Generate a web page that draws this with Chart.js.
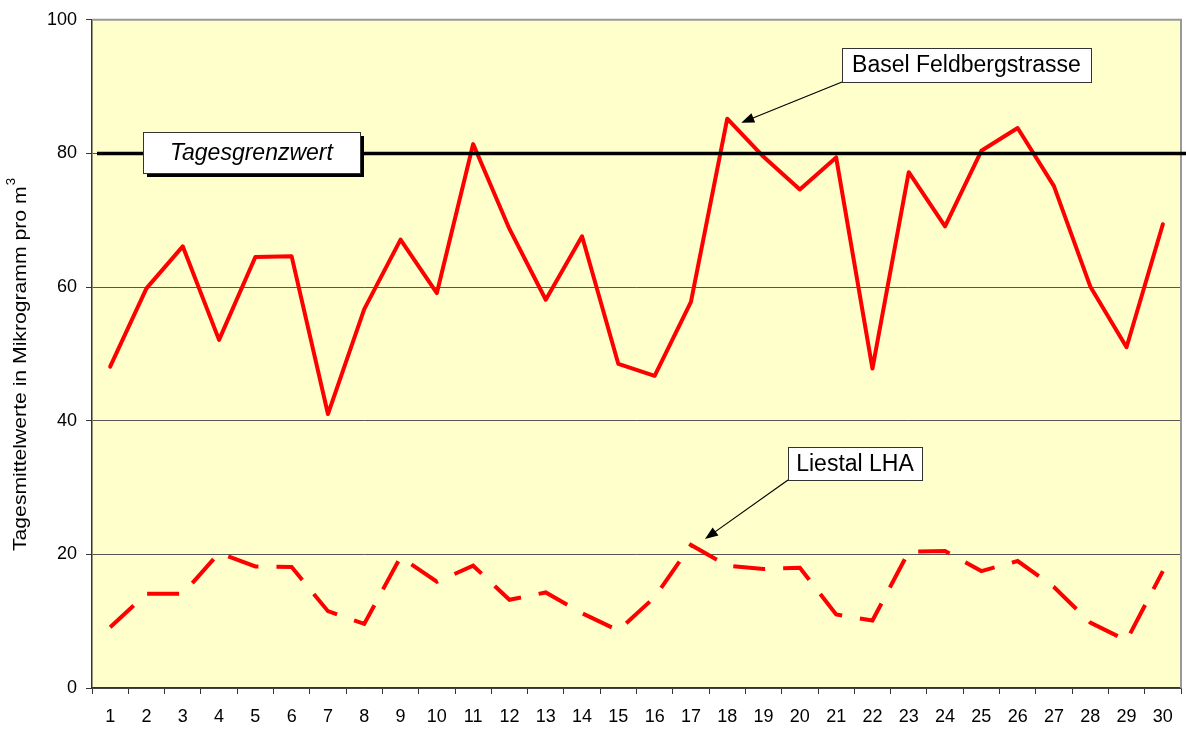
<!DOCTYPE html>
<html>
<head>
<meta charset="utf-8">
<script src="https://cdn.jsdelivr.net/npm/chart.js@4.4.0/dist/chart.umd.min.js"></script>
<style>
  html, body { margin: 0; padding: 0; background: #fff; }
  #wrap { width: 1186px; height: 729px; }
</style>
</head>
<body>
<div id="wrap"><canvas id="mainChart"></canvas></div>
<script>
const days = ["1","2","3","4","5","6","7","8","9","10","11","12","13","14","15",
              "16","17","18","19","20","21","22","23","24","25","26","27","28","29","30"];
const basel = [48.1, 59.8, 66.1, 52.1, 64.5, 64.6, 41.0, 56.7, 67.1, 59.1,
               81.4, 68.7, 58.1, 67.6, 48.5, 46.7, 57.8, 85.2, 79.5, 74.6,
               79.4, 47.8, 77.2, 69.1, 80.4, 83.8, 75.1, 60.1, 51.0, 69.4];
const liestal = [9.1, 14.1, 14.1, 20.2, 18.2, 18.1, 11.5, 9.6, 19.6, 15.9,
                 18.3, 13.2, 14.3, 11.2, 8.6, 13.6, 21.4, 18.3, 17.8, 18.0,
                 11.0, 10.1, 20.4, 20.5, 17.5, 19.0, 15.1, 9.8, 7.1, 17.5];
const yTicks = [0, 20, 40, 60, 80, 100];
const grenzwert = 80;

const FONT = "'Liberation Sans', Arial, sans-serif";

function labelBox(ctx, x, y, w, h, text, font, shadow) {
  if (shadow) {
    ctx.fillStyle = "#000";
    ctx.fillRect(x + 4, y + 4, w, h);
  }
  ctx.fillStyle = "#fff";
  ctx.fillRect(x, y, w, h);
  ctx.strokeStyle = "#333";
  ctx.lineWidth = 1;
  ctx.strokeRect(x + 0.5, y + 0.5, w, h);
  ctx.fillStyle = "#000";
  ctx.font = font;
  ctx.textAlign = "center";
  ctx.textBaseline = "middle";
  ctx.fillText(text, x + w / 2, y + h / 2 + 1);
}

function arrow(ctx, x1, y1, x2, y2) {
  ctx.strokeStyle = "#000";
  ctx.fillStyle = "#000";
  ctx.lineWidth = 1.2;
  const a = Math.atan2(y2 - y1, x2 - x1);
  ctx.beginPath();
  ctx.moveTo(x1, y1);
  ctx.lineTo(x2 - 8 * Math.cos(a), y2 - 8 * Math.sin(a));
  ctx.stroke();
  ctx.beginPath();
  ctx.moveTo(x2, y2);
  ctx.lineTo(x2 - 13 * Math.cos(a) + 5 * Math.sin(a), y2 - 13 * Math.sin(a) - 5 * Math.cos(a));
  ctx.lineTo(x2 - 13 * Math.cos(a) - 5 * Math.sin(a), y2 - 13 * Math.sin(a) + 5 * Math.cos(a));
  ctx.closePath();
  ctx.fill();
}

const decor = {
  id: "decor",
  beforeDraw(chart) {
    const {ctx, chartArea: a} = chart;
    ctx.save();
    ctx.fillStyle = "#FFFFCC";
    ctx.fillRect(a.left, a.top, a.right - a.left, a.bottom - a.top);
    ctx.restore();
  },
  afterDatasetsDraw(chart) {
    const {ctx, chartArea: a, scales} = chart;
    ctx.save();
    // frame top/right
    ctx.strokeStyle = "#999";
    ctx.lineWidth = 2;
    ctx.beginPath();
    ctx.moveTo(a.left, a.top);
    ctx.lineTo(a.right, a.top);
    ctx.lineTo(a.right, a.bottom);
    ctx.stroke();
    // limit line
    const yl = scales.y.getPixelForValue(grenzwert);
    ctx.strokeStyle = "#000";
    ctx.lineWidth = 3.5;
    ctx.beginPath();
    ctx.moveTo(a.left + 5, yl);
    ctx.lineTo(chart.width, yl);
    ctx.stroke();
    labelBox(ctx, 143, 132, 217, 41, "Tagesgrenzwert", "italic 23px " + FONT, true);
    // series labels
    labelBox(ctx, 842, 48, 249, 34, "Basel Feldbergstrasse", "23px " + FONT, false);
    arrow(ctx, 842, 82, scales.x.getPixelForValue(17) + 14, scales.y.getPixelForValue(basel[17]) + 4);
    labelBox(ctx, 788, 447, 134, 33, "Liestal LHA", "23px " + FONT, false);
    arrow(ctx, 788, 480, scales.x.getPixelForValue(16) + 14, scales.y.getPixelForValue(liestal[16]) - 6);
    // y title (stretched along its length like the original)
    const main = "Tagesmittelwerte in Mikrogramm pro m";
    ctx.font = "19px " + FONT;
    const wMain = ctx.measureText(main).width;
    ctx.font = "12px " + FONT;
    const wSup = ctx.measureText("3").width;
    const span = 372;
    const k = span / (wMain + wSup);
    ctx.translate(21, 365);
    ctx.rotate(-Math.PI / 2);
    ctx.scale(k, 1);
    ctx.fillStyle = "#000";
    ctx.textAlign = "left";
    ctx.textBaseline = "middle";
    const x0 = -(wMain + wSup) / 2;
    ctx.font = "19px " + FONT;
    ctx.fillText(main, x0, 0);
    ctx.font = "12px " + FONT;
    ctx.fillText("3", x0 + wMain + 1, -9);
    ctx.restore();
  }
};

new Chart(document.getElementById("mainChart"), {
  type: "line",
  data: {
    labels: days,
    datasets: [
      {data: basel, borderColor: "#FF0000", borderWidth: 4, pointRadius: 0,
       tension: 0, borderJoinStyle: "round", borderCapStyle: "round"},
      {data: liestal, borderColor: "#FF0000", borderWidth: 4, pointRadius: 0,
       tension: 0, borderDash: [32, 18], borderCapStyle: "butt"}
    ]
  },
  options: {
    responsive: true,
    maintainAspectRatio: false,
    animation: false,
    events: [],
    layout: {padding: {top: 18, right: 5, left: 0, bottom: 0}},
    plugins: {legend: {display: false}, tooltip: {enabled: false}},
    scales: {
      x: {
        offset: true,
        afterFit(s) { s.height = 41; },
        grid: {offset: true, drawOnChartArea: false, color: "#333", tickLength: 6, tickWidth: 1},
        border: {color: "#333", width: 1.5},
        ticks: {color: "#000", font: {family: FONT, size: 18}, padding: 12, maxRotation: 0, autoSkip: false}
      },
      y: {
        min: 0, max: 100,
        afterFit(s) { s.width = 92; },
        afterBuildTicks(s) { s.ticks = yTicks.map(v => ({value: v})); },
        grid: {color: ctx => ctx.tick && ctx.tick.value === 100 ? "rgba(0,0,0,0)" : "#555",
               lineWidth: 1, tickLength: 6, tickColor: "#333"},
        border: {color: "#333", width: 1.5},
        ticks: {color: "#000", font: {family: FONT, size: 18}, padding: 9}
      }
    }
  },
  plugins: [decor]
});
</script>
</body>
</html>
